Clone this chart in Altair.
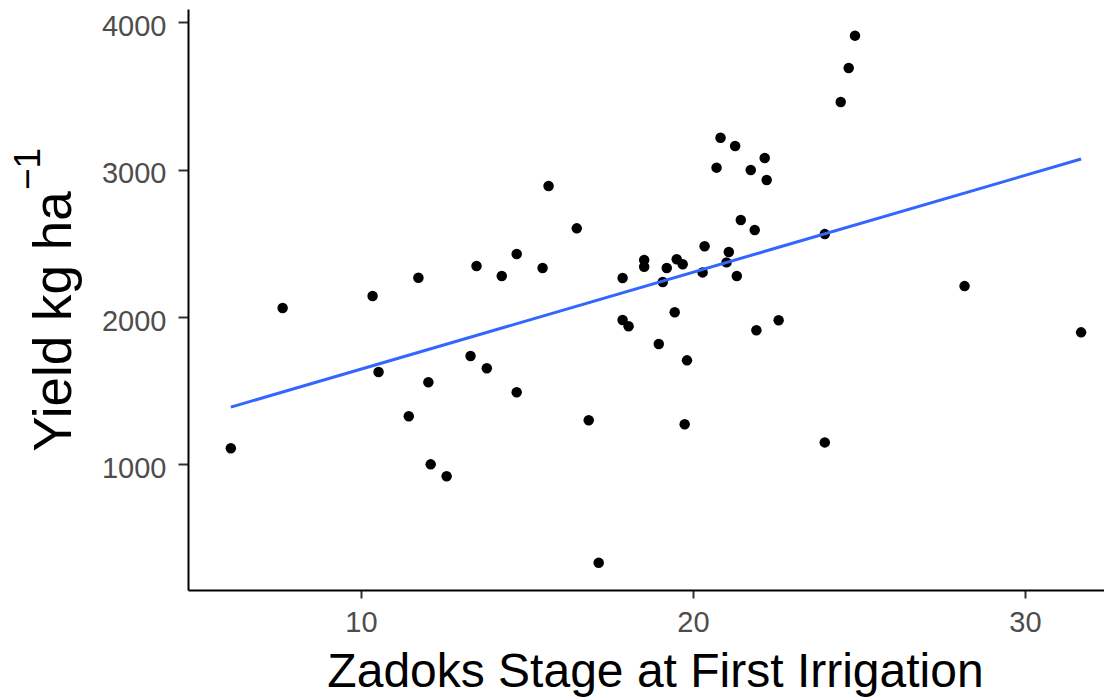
import altair as alt
import pandas as pd

# Zadoks stage at first irrigation (x) and yield in kg/ha (y)
zadoks = [6.08, 7.64, 10.35, 10.53, 11.44, 11.73, 12.03, 12.10, 12.58, 13.30,
          13.48, 13.79, 14.24, 14.69, 14.69, 15.47, 15.65, 16.50, 16.86, 17.16,
          17.88, 17.88, 18.06, 18.53, 18.53, 18.97, 19.09, 19.21, 19.45, 19.51,
          19.69, 19.75, 19.82, 20.29, 20.35, 20.71, 20.83, 21.01, 21.08, 21.27,
          21.32, 21.44, 21.74, 21.86, 21.91, 22.16, 22.22, 22.58, 23.97, 23.97,
          24.45, 24.69, 24.88, 28.18, 31.69]
yield_kg = [1109, 2061, 2143, 1627, 1326, 2267, 1557, 1000, 919, 1735,
            2346, 1652, 2278, 2428, 1489, 2333, 2889, 2602, 1299, 332,
            2265, 1980, 1937, 2387, 2341, 1817, 2238, 2333, 2032, 2392,
            2358, 1272, 1706, 2303, 2480, 3014, 3217, 2371, 2441, 3161,
            2278, 2659, 2998, 2591, 1910, 3079, 2930, 1978, 2563, 1149,
            3460, 3690, 3910, 2210, 1896]

x_ticks = [10, 20, 30]
y_ticks = [1000, 2000, 3000, 4000]
x_title = "Zadoks Stage at First Irrigation"
y_title = "Yield kg ha"
y_sup = ["\u22121"]

df = pd.DataFrame({"zadoks": zadoks, "yield": yield_kg})
FONT = "Liberation Sans"

xscale = alt.Scale(domain=[4.79, 32.38], nice=False, zero=False)
yscale = alt.Scale(domain=[147, 4091], nice=False, zero=False)

xaxis = alt.Axis(values=x_ticks, grid=False, title=x_title, format="d",
                 labelFont=FONT, labelFontSize=29, labelColor="#4D4D4D",
                 labelPadding=10, labelBaseline="top",
                 titleFont=FONT, titleFontSize=48, titleFontWeight="normal",
                 titleColor="#000000", titleBaseline="alphabetic",
                 titleX=467, titleY=96, titleAlign="center",
                 domainColor="#000000", domainWidth=2,
                 tickColor="#333333", tickWidth=2, tickSize=8)
yaxis = alt.Axis(values=y_ticks, grid=False, title=y_title, format="d",
                 labelFont=FONT, labelFontSize=29, labelColor="#4D4D4D",
                 labelPadding=12, labelBaseline="middle", labelOffset=4,
                 titleFont=FONT, titleFontSize=53, titleFontWeight="normal",
                 titleColor="#000000", titleBaseline="alphabetic",
                 titleAngle=270, titleAlign="center",
                 titleX=-118, titleY=312,
                 domainColor="#000000", domainWidth=2,
                 tickColor="#333333", tickWidth=2, tickSize=10)

base = alt.Chart(df)

points = base.mark_circle(size=110, color="#000000", opacity=1).encode(
    x=alt.X("zadoks:Q", scale=xscale, axis=xaxis),
    y=alt.Y("yield:Q", scale=yscale, axis=yaxis),
)

line = base.transform_regression("zadoks", "yield").mark_line(
    color="#3366FF", strokeWidth=3
).encode(
    x=alt.X("zadoks:Q", scale=xscale),
    y=alt.Y("yield:Q", scale=yscale),
)

sup = alt.Chart(pd.DataFrame({"t": y_sup})).mark_text(
    font=FONT, fontSize=37, angle=270, align="center", baseline="alphabetic",
    color="#000000"
).encode(
    x=alt.value(-148), y=alt.value(160), text="t:N"
)

chart = alt.layer(points, line, sup).properties(
    width=916, height=581,
    autosize=alt.AutoSizeParams(type="none"),
    padding={"left": 180, "top": 1, "right": 0, "bottom": 110},
).configure_view(stroke=None)

chart.save("out.html", embed_options={"renderer": "svg", "actions": False})
